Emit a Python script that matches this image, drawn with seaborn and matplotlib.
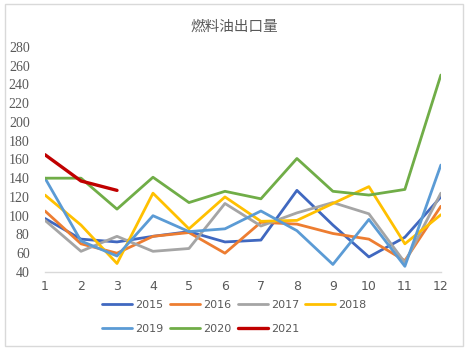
import matplotlib
matplotlib.use("Agg")
import matplotlib.pyplot as plt
import matplotlib.patches as mpatches
import seaborn as sns
import pandas as pd

title = "燃料油出口量"
months = [1, 2, 3, 4, 5, 6, 7, 8, 9, 10, 11, 12]
y2015 = [97, 75, 72, 78, 83, 72, 74, 127, 90, 56, 77, 120]
y2016 = [105, 70, 60, 78, 82, 60, 93, 91, 81, 75, 52, 110]
y2017 = [95, 62, 78, 62, 65, 113, 89, 103, 114, 102, 50, 124]
y2018 = [122, 90, 49, 124, 86, 120, 94, 95, 113, 131, 70, 101]
y2019 = [140, 73, 57, 100, 83, 86, 105, 84, 48, 96, 46, 154]
y2020 = [140, 140, 107, 141, 114, 126, 118, 161, 126, 122, 128, 250]
y2021 = [165, 137, 127]
years = ["2015", "2016", "2017", "2018", "2019", "2020", "2021"]
series = [y2015, y2016, y2017, y2018, y2019, y2020, y2021]
yticks = [40, 60, 80, 100, 120, 140, 160, 180, 200, 220, 240, 260, 280]

colors = {"2015": "#4068C0", "2016": "#ED7D31", "2017": "#A5A5A5", "2018": "#FFC000",
          "2019": "#5B9BD5", "2020": "#70AD47", "2021": "#C00000"}

rows = []
for yr, vals in zip(years, series):
    for m, v in zip(months, vals):
        rows.append({"month": m, "value": v, "year": yr})
df = pd.DataFrame(rows)

sns.set_theme(style="white")
plt.rcParams['font.family'] = ['DejaVu Sans', 'Noto Sans CJK SC']

fig = plt.figure(figsize=(4.69, 3.5), dpi=100)
ax = fig.add_axes([0.096, 0.223, 0.844, 0.643])

sns.lineplot(data=df, x="month", y="value", hue="year", palette=colors,
             linewidth=2.0, ax=ax, legend=False)
ax.lines[-1].set_linewidth(2.4)

ax.set_xlim(1, 12)
ax.set_ylim(40, 280)
ax.set_xticks(months)
ax.set_yticks(yticks)
ax.set_xlabel("")
ax.set_ylabel("")
for s in ["top", "right", "left"]:
    ax.spines[s].set_visible(False)
ax.spines["bottom"].set_color("#D9D9D9")
ax.spines["bottom"].set_linewidth(1.0)
ax.tick_params(axis="both", length=0, colors="#595959", labelsize=9)
ax.tick_params(axis="x", pad=6)
ax.tick_params(axis="y", pad=11)
for lab in ax.get_yticklabels():
    lab.set_family("Liberation Serif")
    lab.set_fontsize(10)

fig.text(0.5, 0.925, title, ha="center", va="center", fontsize=10.5,
         color="#595959", family=["Noto Sans CJK SC", "DejaVu Sans"])

handles = {yr: plt.Line2D([], [], color=colors[yr], linewidth=2.4 if yr == "2021" else 2.0)
           for yr in years}
order = ["2015", "2019", "2016", "2020", "2017", "2021", "2018"]
fig.legend([handles[k] for k in order], order, loc="center", ncol=4,
           bbox_to_anchor=(0.5, 0.095), frameon=False, fontsize=8,
           handlelength=2.7, handletextpad=0.3, columnspacing=0.55,
           labelspacing=1.25, labelcolor="#595959")

fig.patches.append(mpatches.Rectangle((0.011, 0.012), 0.976, 0.978, transform=fig.transFigure,
                                      fill=False, edgecolor="#D9D9D9", linewidth=1.0))

fig.savefig("out.png", dpi=100)
